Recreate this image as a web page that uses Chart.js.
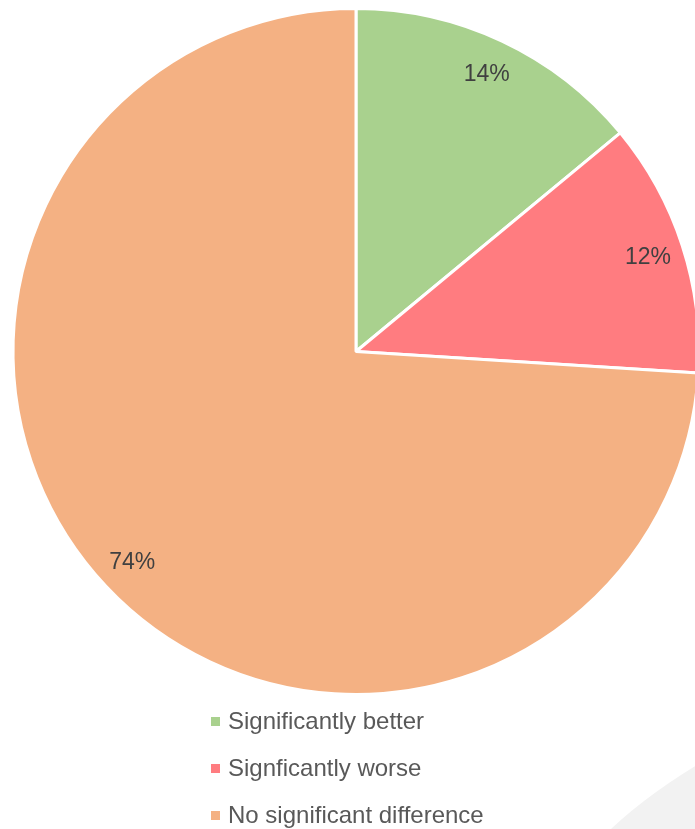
<!DOCTYPE html>
<html>
<head>
<meta charset="utf-8">
<script src="https://cdn.jsdelivr.net/npm/chart.js@4"></script>
<style>
  html, body { margin: 0; padding: 0; background: #ffffff; overflow: hidden; }
  #wrap { width: 712px; height: 829px; }
</style>
</head>
<body>
<div id="wrap"><canvas id="pieChart" width="712" height="829"></canvas></div>
<script>
const categories = ['Significantly better', 'Signficantly worse', 'No significant difference'];
const shares = [14, 12, 74];
const sliceColors = ['#A9D18E', '#FF7C80', '#F4B183'];

const labelFont = '23px "Liberation Sans", Arial, sans-serif';
const legendFont = '24px "Liberation Sans", Arial, sans-serif';

// light grey swoosh in the lower right corner, behind everything
const cornerShape = {
    id: 'cornerShape',
    beforeDraw(chart) {
        const ctx = chart.ctx;
        ctx.save();
        ctx.beginPath();
        ctx.moveTo(611, 829);
        ctx.quadraticCurveTo(650, 792, 712, 756);
        ctx.lineTo(712, 829);
        ctx.closePath();
        ctx.fillStyle = '#f2f2f2';
        ctx.fill();
        ctx.restore();
    }
};

// percentage text inside each slice
const sliceLabels = {
    id: 'sliceLabels',
    afterDatasetsDraw(chart) {
        const ctx = chart.ctx;
        const meta = chart.getDatasetMeta(0);
        ctx.save();
        ctx.font = labelFont;
        ctx.fillStyle = '#404040';
        ctx.textAlign = 'center';
        ctx.textBaseline = 'middle';
        meta.data.forEach((arc, i) => {
            const p = arc.getProps(['x', 'y', 'startAngle', 'endAngle', 'outerRadius'], true);
            const mid = (p.startAngle + p.endAngle) / 2;
            const r = p.outerRadius * 0.895;
            ctx.fillText(shares[i] + '%', p.x + Math.cos(mid) * r, p.y + Math.sin(mid) * r + 1);
        });
        ctx.restore();
    }
};

// stacked legend under the pie
const stackedLegend = {
    id: 'stackedLegend',
    afterDraw(chart) {
        const ctx = chart.ctx;
        const x0 = 211;
        const rows = [722, 769, 816];
        ctx.save();
        ctx.font = legendFont;
        ctx.textBaseline = 'middle';
        ctx.textAlign = 'left';
        categories.forEach((name, i) => {
            ctx.fillStyle = sliceColors[i];
            ctx.fillRect(x0, rows[i] - 5, 9, 9);
            ctx.fillStyle = '#595959';
            ctx.fillText(name, x0 + 17, rows[i]);
        });
        ctx.restore();
    }
};

new Chart(document.getElementById('pieChart'), {
    type: 'pie',
    data: {
        labels: categories,
        datasets: [{
            data: shares,
            backgroundColor: sliceColors,
            borderColor: '#ffffff',
            borderWidth: 3
        }]
    },
    options: {
        responsive: false,
        animation: false,
        layout: {
            padding: { left: 11, right: 11, top: 7, bottom: 133 }
        },
        plugins: {
            legend: { display: false },
            tooltip: { enabled: false }
        }
    },
    plugins: [cornerShape, sliceLabels, stackedLegend]
});
</script>
</body>
</html>
